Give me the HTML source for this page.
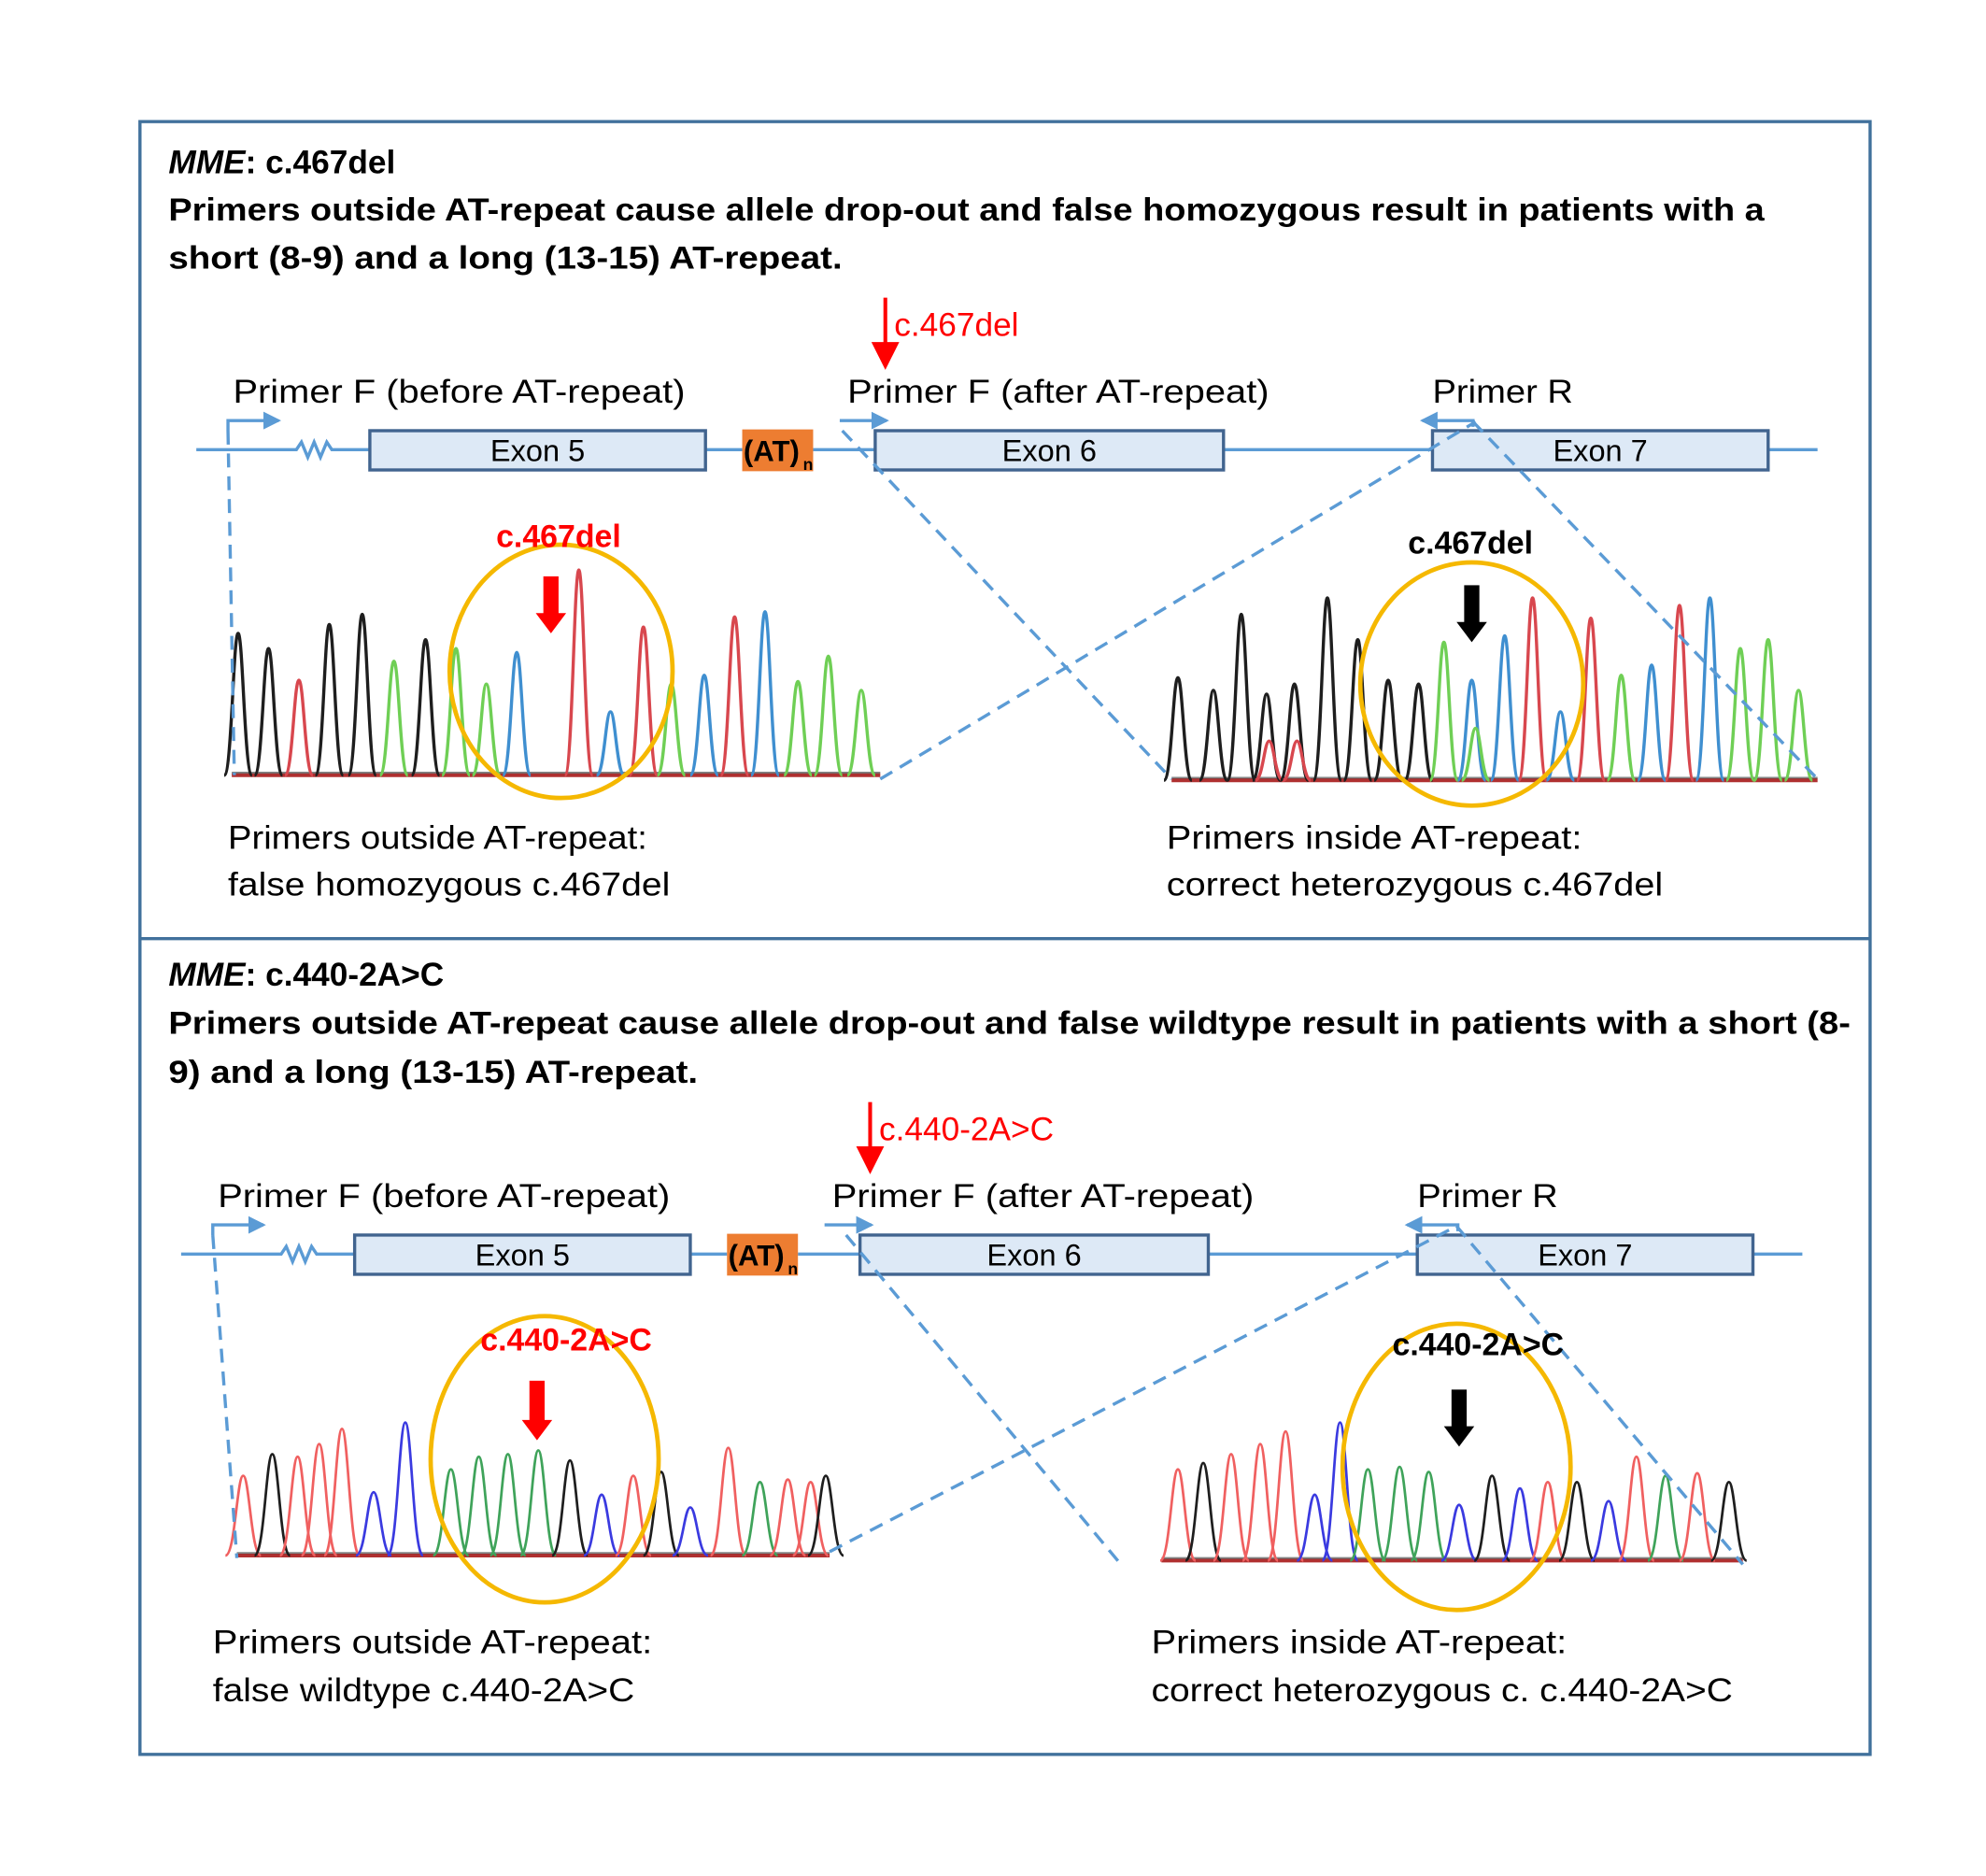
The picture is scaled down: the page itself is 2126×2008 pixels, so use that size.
<!DOCTYPE html>
<html><head><meta charset="utf-8"><style>
html,body{margin:0;padding:0;background:#fff}
svg{display:block}
text{font-family:"Liberation Sans",sans-serif}
</style></head><body>
<svg id="s" width="2126" height="2008" viewBox="0 0 1568 1481" preserveAspectRatio="none" xmlns="http://www.w3.org/2000/svg">
<defs>
<marker id="ab" markerWidth="14" markerHeight="14" refX="12" refY="7" orient="auto" markerUnits="userSpaceOnUse" viewBox="0 0 14 14"><path d="M0,0L14,7L0,14z" fill="#5b9bd5"/></marker>
</defs>
<rect x="0" y="0" width="1568" height="1481" fill="#fff"/>
<rect x="110.5" y="96" width="1366" height="1289" fill="none" stroke="#41719c" stroke-width="2.5"/>
<line x1="110" y1="741" x2="1477" y2="741" stroke="#41719c" stroke-width="2.5"/>

<g id="top">
<text x="133" y="137" font-size="26" font-weight="bold"><tspan font-style="italic">MME</tspan>: c.467del</text>
<text x="133" y="174" font-size="25" font-weight="bold" textLength="1260" lengthAdjust="spacingAndGlyphs">Primers outside AT-repeat cause allele drop-out and false homozygous result in patients with a</text>
<text x="133" y="212" font-size="25" font-weight="bold" textLength="532" lengthAdjust="spacingAndGlyphs">short (8-9) and a long (13-15) AT-repeat.</text>
</g>
<g id="bot">
<text x="133" y="778" font-size="26" font-weight="bold"><tspan font-style="italic">MME</tspan>: c.440-2A&gt;C</text>
<text x="133" y="816" font-size="25" font-weight="bold" textLength="1328" lengthAdjust="spacingAndGlyphs">Primers outside AT-repeat cause allele drop-out and false wildtype result in patients with a short (8-</text>
<text x="133" y="855" font-size="25" font-weight="bold" textLength="418" lengthAdjust="spacingAndGlyphs">9) and a long (13-15) AT-repeat.</text>
</g>
<g id="chroms"></g>
<g id="panels"></g>
</svg>
<script>
var NS="http://www.w3.org/2000/svg";
function el(p,n,a,t){var e=document.createElementNS(NS,n);for(var k in a)e.setAttribute(k,a[k]);if(t)e.textContent=t;p.appendChild(e);return e;}
var C={k:"#1e1e1e",r:"#d8474e",g:"#6fcf55",b:"#3f8fd0",B:"#3a3ae0",G:"#3fa35a",R:"#f06060"};
var ch=document.getElementById("chroms");
function chrom(x0,x1,base,peaks,w,sw){
  el(ch,"line",{x1:x0,y1:base,x2:x1,y2:base,stroke:"#b03030","stroke-width":3});
  el(ch,"line",{x1:x0,y1:base-2,x2:x1,y2:base-2,stroke:"#333","stroke-width":1.5,opacity:0.6});
  peaks.forEach(function(p){var x=p[0],t=p[1],c=C[p[2]];
    var d="M"+(x-w)+","+base+" C"+(x-w*0.45)+","+base+" "+(x-w*0.35)+","+t+" "+x+","+t+" C"+(x+w*0.35)+","+t+" "+(x+w*0.45)+","+base+" "+(x+w)+","+base;
    el(ch,"path",{d:d,fill:"none",stroke:c,"stroke-width":sw});});
}
chrom(183,695,612,[[188,500,"k"],[212,512,"k"],[236,537,"r"],[260,493,"k"],[286,485,"k"],[311,522,"g"],[336,505,"k"],[360,512,"g"],[384,540,"g"],[408,515,"b"],[457,450,"r"],[482,562,"b"],[508,495,"r"],[530,540,"g"],[556,533,"b"],[580,487,"r"],[604,483,"b"],[630,538,"g"],[654,518,"g"],[680,545,"g"]],11,2.5);
chrom(925,1435,616,[[930,535,"k"],[958,545,"k"],[980,485,"k"],[1000,548,"k"],[1002,585,"r"],[1022,540,"k"],[1024,585,"r"],[1048,472,"k"],[1072,505,"k"],[1096,537,"k"],[1120,540,"k"],[1140,507,"g"],[1162,537,"b"],[1165,575,"g"],[1188,502,"b"],[1210,472,"r"],[1232,562,"b"],[1256,488,"r"],[1280,533,"g"],[1304,525,"b"],[1326,478,"r"],[1350,472,"b"],[1374,512,"g"],[1396,505,"g"],[1420,545,"g"]],11,2.5);
chrom(187,655,1228,[[192,1165,"R"],[215,1148,"k"],[235,1150,"R"],[252,1140,"R"],[270,1128,"R"],[295,1178,"B"],[320,1123,"B"],[356,1160,"G"],[378,1150,"G"],[401,1148,"G"],[425,1145,"G"],[450,1153,"k"],[475,1180,"B"],[500,1165,"R"],[522,1162,"k"],[545,1190,"B"],[575,1143,"R"],[600,1170,"G"],[622,1168,"R"],[640,1170,"R"],[652,1165,"k"]],14,2);
chrom(917,1376,1232,[[930,1160,"R"],[950,1155,"k"],[972,1148,"R"],[995,1140,"R"],[1015,1130,"R"],[1038,1180,"B"],[1058,1123,"B"],[1080,1160,"G"],[1105,1158,"G"],[1128,1162,"G"],[1152,1188,"B"],[1178,1165,"k"],[1200,1175,"B"],[1222,1170,"R"],[1245,1170,"k"],[1270,1185,"B"],[1292,1150,"R"],[1315,1165,"G"],[1340,1163,"R"],[1365,1170,"k"]],14,2);

var pg=document.getElementById("panels");
function panel(dx,dy,mut){
  var g=el(pg,"g",{transform:"translate("+dx+","+dy+")"});
  el(g,"path",{d:"M155,355 H234 l4,-6 l5,12 l5,-12 l5,12 l5,-12 l4,6 H292 M557,355 H586 M642,355 H691 M966,355 H1131 M1396,355 H1435",fill:"none",stroke:"#5b9bd5","stroke-width":2.5});
  [[292,557,"Exon  5"],[691,966,"Exon  6"],[1131,1396,"Exon  7"]].forEach(function(e){
    el(g,"rect",{x:e[0],y:340,width:e[1]-e[0],height:31,fill:"#dde9f6",stroke:"#41648f","stroke-width":2.5});
    el(g,"text",{x:(e[0]+e[1])/2,y:364,"font-size":24,"text-anchor":"middle"},e[2]);});
  el(g,"rect",{x:586,y:339,width:56,height:33,fill:"#ed7d31"});
  el(g,"text",{x:587,y:364,"font-size":23,"font-weight":"bold"},"(AT)");
  el(g,"text",{x:634,y:371,"font-size":13,"font-weight":"bold"},"n");
  el(g,"path",{d:"M180,340 V332 H220",fill:"none",stroke:"#5b9bd5","stroke-width":2.5,"marker-end":"url(#ab)"});
  el(g,"path",{d:"M663,332 H700",fill:"none",stroke:"#5b9bd5","stroke-width":2.5,"marker-end":"url(#ab)"});
  el(g,"path",{d:"M1163,337 V332 H1123",fill:"none",stroke:"#5b9bd5","stroke-width":2.5,"marker-end":"url(#ab)"});
  el(g,"text",{x:184,y:318,"font-size":26,textLength:357,lengthAdjust:"spacingAndGlyphs"},"Primer F (before AT-repeat)");
  el(g,"text",{x:669,y:318,"font-size":26,textLength:333,lengthAdjust:"spacingAndGlyphs"},"Primer F (after AT-repeat)");
  el(g,"text",{x:1131,y:318,"font-size":26,textLength:111,lengthAdjust:"spacingAndGlyphs"},"Primer R");
  el(g,"line",{x1:699,y1:235,x2:699,y2:272,stroke:"#f00","stroke-width":3});
  el(g,"path",{d:"M688,270 L710,270 L699,292 z",fill:"#f00"});
  el(g,"text",{x:706,y:265,"font-size":26,fill:"#f00"},mut);
  return g;
}
panel(0,0,"c.467del");
panel(-12,635,"c.440-2A>C");
function dashes(pts){pts.forEach(function(p){el(pg,"line",{x1:p[0],y1:p[1],x2:p[2],y2:p[3],stroke:"#5b9bd5","stroke-width":2.5,"stroke-dasharray":"11,7"});});}
dashes([[180,340,185,612],[695,615,1165,333],[665,340,925,615],[1163,333,1435,615]]);
dashes([[168,975,187,1230],[655,1225,1150,968],[668,975,885,1235],[1150,968,1376,1235]]);
function circ(cx,cy,rx,ry){el(pg,"ellipse",{cx:cx,cy:cy,rx:rx,ry:ry,fill:"none",stroke:"#f5b800","stroke-width":3.5});}
circ(443,530,88,100);circ(1162,540,88,96);circ(430,1152,90,113);circ(1150,1158,90,113);
function lab(x,y,s,c){el(pg,"text",{x:x,y:y,"font-size":25,"font-weight":"bold",fill:c,"text-anchor":"middle"},s);}
lab(441,432,"c.467del","#f00");lab(1161,437,"c.467del","#000");
lab(447,1066,"c.440-2A>C","#f00");lab(1167,1070,"c.440-2A>C","#000");
function barrow(x,y1,y2,c){el(pg,"rect",{x:x-6,y:y1,width:12,height:y2-y1-14,fill:c});el(pg,"path",{d:"M"+(x-12)+","+(y2-16)+" L"+(x+12)+","+(y2-16)+" L"+x+","+y2+" z",fill:c});}
barrow(435,455,500,"#f00");barrow(1162,462,507,"#000");barrow(424,1090,1137,"#f00");barrow(1152,1097,1142,"#000");
function txt(x,y,s,L){el(pg,"text",{x:x,y:y,"font-size":26,textLength:L,lengthAdjust:"spacingAndGlyphs"},s);}
txt(180,670,"Primers outside AT-repeat:",331);txt(180,707,"false homozygous c.467del",349);
txt(921,670,"Primers inside AT-repeat:",328);txt(921,707,"correct heterozygous c.467del",392);
txt(168,1305,"Primers outside AT-repeat:",347);txt(168,1343,"false wildtype c.440-2A>C",333);
txt(909,1305,"Primers inside AT-repeat:",328);txt(909,1343,"correct heterozygous c. c.440-2A>C",459);
</script>
</body></html>
